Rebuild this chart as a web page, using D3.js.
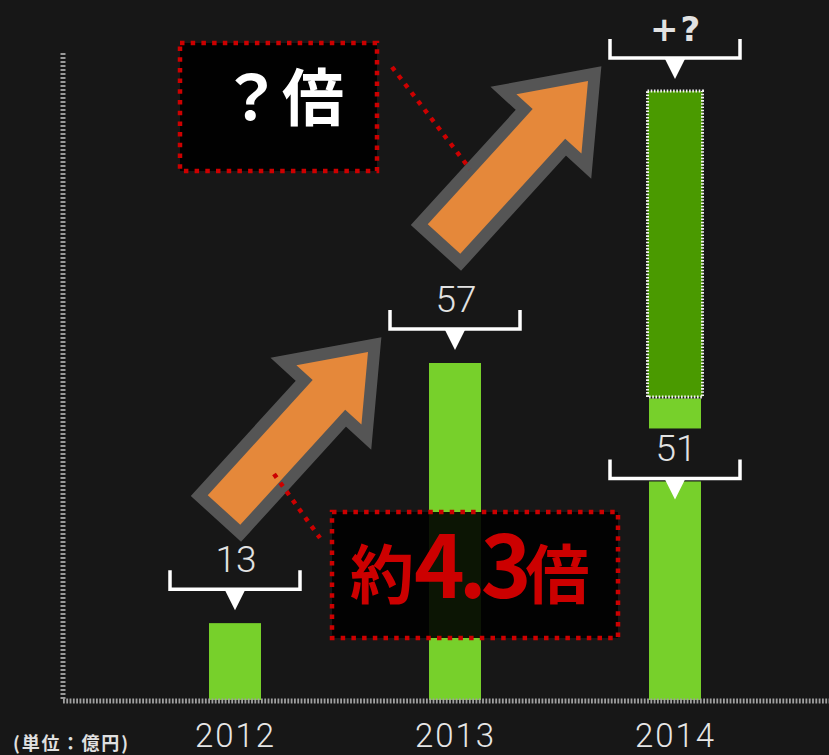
<!DOCTYPE html>
<html>
<head>
<meta charset="utf-8">
<script src="https://cdn.jsdelivr.net/npm/d3@7"></script>
<style>
  html, body { margin: 0; padding: 0; background: #171717; }
  svg { display: block; }
</style>
</head>
<body>
<div id="chart"></div>
<script>
// Data
var years = ["2012", "2013", "2014"];
var values = [13, 57, 51];
var valueLabels = ["13", "57", "51"];
var extraValues = [0, 0, 52];      // "+?" part on top of 2014
var extraLabels = ["", "", "+?"];
var unitLabel = "(単位：億円)";
var ratioKnown = ["約", "4.3", "倍"];
var ratioUnknown = "？倍";

var width = 829, height = 755;
var barW = 52;

var svg = d3.select("#chart").append("svg")
    .attr("width", width)
    .attr("height", height);

svg.append("rect")
    .attr("width", width)
    .attr("height", height)
    .attr("fill", "#171717");

var x = d3.scalePoint()
    .domain(years)
    .range([235, 675]);

var y = d3.scaleLinear()
    .domain([0, 57])
    .range([700, 363]);

// axis lines (dotted)
svg.append("line")
    .attr("x1", 63).attr("x2", 63)
    .attr("y1", 53).attr("y2", y(0))
    .attr("stroke", "#9a9a9a")
    .attr("stroke-width", 5)
    .attr("stroke-dasharray", "2,2");

// bars
svg.selectAll(".bar")
    .data(years)
  .enter().append("rect")
    .attr("class", "bar")
    .attr("x", function(d) { return x(d) - barW / 2; })
    .attr("y", function(d, i) { return y(values[i]); })
    .attr("width", barW)
    .attr("height", function(d, i) { return y(0) - y(values[i]); })
    .attr("fill", "#77d02b");

// stacked "+?" part
var extra = years.map(function(d, i) { return { year: d, base: values[i], v: extraValues[i], label: extraLabels[i] }; })
    .filter(function(d) { return d.v > 0; });

svg.selectAll(".extra")
    .data(extra)
  .enter().append("rect")
    .attr("class", "extra")
    .attr("x", function(d) { return x(d.year) - barW / 2 - 1.5; })
    .attr("y", function(d) { return y(d.base + d.v); })
    .attr("width", barW + 3)
    .attr("height", function(d) { return y(d.base) - y(d.base + d.v) - 1.5; })
    .attr("fill", "#4a9a00")
    .attr("stroke", "#f2f2f2")
    .attr("stroke-width", 3)
    .attr("stroke-dasharray", "1.6,1.6");

svg.append("line")
    .attr("x1", 63).attr("x2", width)
    .attr("y1", 701).attr("y2", 701)
    .attr("stroke", "#a0a0a0")
    .attr("stroke-width", 5)
    .attr("stroke-dasharray", "1.8,1.5");

// brackets
function bracket(cx, yb, label, bold) {
  var g = svg.append("g");
  g.append("path")
      .attr("d", "M" + (cx - 65) + "," + (yb - 19) + "V" + yb + "H" + (cx + 65) + "V" + (yb - 19))
      .attr("fill", "none")
      .attr("stroke", "#ffffff")
      .attr("stroke-width", 3.5);
  g.append("path")
      .attr("d", "M" + (cx - 10) + "," + (yb + 1) + "L" + (cx + 10) + "," + (yb + 1) + "L" + cx + "," + (yb + 21) + "Z")
      .attr("fill", "#ffffff");
  g.append("text")
      .attr("x", cx + 1)
      .attr("y", yb - 17)
      .attr("text-anchor", "middle")
      .attr("fill", "#e2e2e2")
      .style("font-family", bold ? "DejaVu Sans" : "Roboto, 'Liberation Sans', sans-serif")
      .style("font-weight", bold ? "bold" : 300)
      .style("font-size", bold ? "34px" : "37px")
      .style("letter-spacing", bold ? "2px" : "0px")
      .text(label);
}

var brk = [];
years.forEach(function(d, i) {
  var yb;
  if (extraValues[i] > 0) {
    // value label sits inside the bar; cover the bar behind it
    yb = y(values[i]) + 80;
    svg.append("rect")
        .attr("x", x(d) - barW / 2 - 1)
        .attr("y", yb - 50)
        .attr("width", barW + 2)
        .attr("height", 53)
        .attr("fill", "#171717");
    bracket(x(d), yb, valueLabels[i], false);
    var yt = y(values[i] + extraValues[i]) - 33;
    bracket(x(d), yt, extraLabels[i], true);
    brk.push({ cx: x(d), yb: yt });
  } else {
    yb = y(values[i]) - 34;
    bracket(x(d), yb, valueLabels[i], false);
    brk.push({ cx: x(d), yb: yb });
  }
});

// growth arrows, pointing at the next bracket
function arrowPath(tip, dir, len, shaftW, headW, headL) {
  var ux = dir[0], uy = dir[1];
  var px = -uy, py = ux;
  var tail = [tip[0] - ux * len, tip[1] - uy * len];
  var neck = [tip[0] - ux * headL, tip[1] - uy * headL];
  var pts = [
    [tail[0] + px * shaftW / 2, tail[1] + py * shaftW / 2],
    [neck[0] + px * shaftW / 2, neck[1] + py * shaftW / 2],
    [neck[0] + px * headW / 2, neck[1] + py * headW / 2],
    tip,
    [neck[0] - px * headW / 2, neck[1] - py * headW / 2],
    [neck[0] - px * shaftW / 2, neck[1] - py * shaftW / 2],
    [tail[0] - px * shaftW / 2, tail[1] - py * shaftW / 2]
  ];
  return d3.line()(pts) + "Z";
}

var dv = [144, -158];
var dl = Math.sqrt(dv[0] * dv[0] + dv[1] * dv[1]);
var dir = [dv[0] / dl, dv[1] / dl];
var arrows = [];
for (var i = 1; i < brk.length; i++) {
  arrows.push([brk[i].cx - 65 - 22, brk[i].yb + 23]);
}

svg.selectAll(".arrow")
    .data(arrows)
  .enter().append("path")
    .attr("class", "arrow")
    .attr("d", function(t) { return arrowPath(t, dir, dl, 44, 88, 58); })
    .attr("fill", "#e5883a")
    .attr("stroke", "#555555")
    .attr("stroke-width", 24)
    .attr("stroke-linejoin", "miter")
    .attr("stroke-miterlimit", 10)
    .style("paint-order", "stroke");

// annotation boxes
function dotted(sel) {
  return sel.attr("stroke", "#cc0000")
      .attr("stroke-width", 4.5)
      .attr("stroke-dasharray", "4.5,6.2");
}

// leader lines
dotted(svg.append("line")
    .attr("x1", arrows[0][0] - 94).attr("y1", arrows[0][1] + 122)
    .attr("x2", 320).attr("y2", 538));
dotted(svg.append("line")
    .attr("x1", 392).attr("y1", 67)
    .attr("x2", arrows[1][0] - 118).attr("y2", arrows[1][1] + 88));

dotted(svg.append("rect")
    .attr("x", 180).attr("y", 43)
    .attr("width", 197).attr("height", 128)
    .attr("fill", "#000000")
    .attr("fill-opacity", 0.95));

svg.append("text")
    .attr("x", 282)
    .attr("y", 121)
    .attr("text-anchor", "middle")
    .attr("fill", "#ffffff")
    .style("font-family", "'Noto Sans CJK JP', sans-serif")
    .style("font-weight", "bold")
    .style("font-size", "62px")
    .text(ratioUnknown);

dotted(svg.append("rect")
    .attr("x", 332).attr("y", 512)
    .attr("width", 286).attr("height", 126)
    .attr("fill", "#000000")
    .attr("fill-opacity", 0.9));

var rt = svg.append("text")
    .attr("x", 350)
    .attr("y", 598)
    .attr("fill", "#cc0000")
    .style("font-family", "'Noto Sans CJK JP', sans-serif")
    .style("font-weight", "bold");
rt.append("tspan").style("font-size", "64px").text(ratioKnown[0]);
rt.append("tspan").style("font-size", "86px").style("letter-spacing", "-6px").text(ratioKnown[1]);
rt.append("tspan").style("font-size", "64px").attr("dx", 0).text(ratioKnown[2]);

// x axis labels
var xAxis = d3.axisBottom(x).tickSize(0).tickPadding(14);
var gx = svg.append("g")
    .attr("transform", "translate(0,710)")
    .call(xAxis);
gx.select(".domain").remove();
gx.selectAll("text")
    .attr("fill", "#e6e6e6")
    .attr("dy", "0.71em")
    .style("font-family", "Roboto, 'Liberation Sans', sans-serif")
    .style("font-weight", 300)
    .style("font-size", "33px")
    .style("letter-spacing", "2px");

svg.append("text")
    .attr("x", 13)
    .attr("y", 750)
    .attr("fill", "#e0e0e0")
    .attr("textLength", 115)
    .style("font-family", "'Noto Sans CJK JP', sans-serif")
    .style("font-weight", "bold")
    .style("font-size", "18px")
    .text(unitLabel);
</script>
</body>
</html>
